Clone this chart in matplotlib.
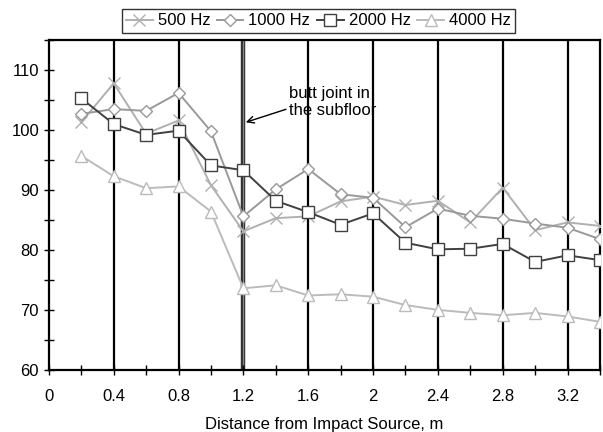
import numpy as np
import matplotlib.pyplot as plt
from matplotlib.ticker import MultipleLocator

# distance from impact source, m
dist = [0.2, 0.4, 0.6, 0.8, 1.0, 1.2, 1.4, 1.6, 1.8, 2.0, 2.2, 2.4, 2.6, 2.8, 3.0, 3.2, 3.4]

# levels per frequency band
hz500 = [101.3, 107.8, 99.4, 101.6, 90.8, 83.1, 85.3, 85.6, 88.1, 88.9, 87.5, 88.2, 84.6, 90.4, 83.3, 84.6, 84.0]
hz1000 = [102.7, 103.5, 103.2, 106.2, 99.8, 85.6, 90.1, 93.5, 89.3, 88.7, 83.8, 86.9, 85.7, 85.2, 84.4, 83.7, 81.8]
hz2000 = [105.3, 101.0, 99.2, 99.9, 94.1, 93.3, 88.2, 86.3, 84.2, 86.1, 81.2, 80.1, 80.2, 81.0, 78.0, 79.1, 78.3]
hz4000 = [95.7, 92.3, 90.3, 90.6, 86.4, 73.6, 74.1, 72.4, 72.6, 72.2, 70.8, 70.0, 69.5, 69.1, 69.5, 68.9, 68.0]

labels = ['500 Hz', '1000 Hz', '2000 Hz', '4000 Hz']
joint_x = 1.2

plt.rcParams['font.family'] = ['Liberation Sans', 'DejaVu Sans']
fs = 12

fig = plt.figure(figsize=(6.03, 4.32), dpi=100)
ax = fig.add_axes([0.081, 0.144, 0.914, 0.763])

# vertical grid lines at major ticks
for xv in np.arange(0.4, 3.3, 0.4):
    if abs(xv - joint_x) < 1e-6:
        continue
    ax.axvline(xv, color='black', lw=1.6, zorder=1)
ax.axvline(joint_x, color='#333333', lw=3.2, zorder=1)
ax.axvline(joint_x, color='#888888', lw=0.8, zorder=1)

ax.plot(dist, hz500, color='#b0b0b0', lw=1.4, marker='x', ms=8, mew=1.0,
        label=labels[0], zorder=3)
ax.plot(dist, hz1000, color='#999999', lw=1.4, marker='D', ms=6, mfc='white',
        mec='#999999', label=labels[1], zorder=3)
ax.plot(dist, hz2000, color='#404040', lw=1.4, marker='s', ms=8, mfc='white',
        mec='#404040', label=labels[2], zorder=4)
ax.plot(dist, hz4000, color='#bbbbbb', lw=1.4, marker='^', ms=8, mfc='white',
        mec='#bbbbbb', label=labels[3], zorder=3)

ax.annotate('butt joint in\nthe subfloor', xy=(1.215, 101.3), xytext=(1.48, 107.4),
            fontsize=fs, va='top', ha='left', linespacing=1.2,
            arrowprops=dict(arrowstyle='->', color='black', lw=1.0,
                            shrinkA=0, shrinkB=0, relpos=(0.0, 0.3)))

ax.set_xlim(0, 3.4)
ax.set_ylim(60, 115)
ax.xaxis.set_minor_locator(MultipleLocator(0.2))
ax.yaxis.set_minor_locator(MultipleLocator(5))
ax.set_xticks(np.arange(0, 3.3, 0.4))
ax.set_xticklabels(['0', '0.4', '0.8', '1.2', '1.6', '2', '2.4', '2.8', '3.2'])
ax.set_yticks([60, 70, 80, 90, 100, 110])
ax.tick_params(which='both', direction='inout', length=7, width=1.0,
               labelsize=fs, top=False, right=False)
ax.tick_params(axis='x', pad=10)
for s in ax.spines.values():
    s.set_linewidth(1.6)

ax.set_xlabel('Distance from Impact Source, m', fontsize=fs, labelpad=10)

fig.legend(loc='upper center', bbox_to_anchor=(0.528, 0.998), ncol=4,
           fontsize=fs, frameon=True, fancybox=False, edgecolor='black',
           handlelength=1.6, handletextpad=0.3, columnspacing=0.4,
           borderpad=0.25)

fig.savefig('out.png', dpi=100)
